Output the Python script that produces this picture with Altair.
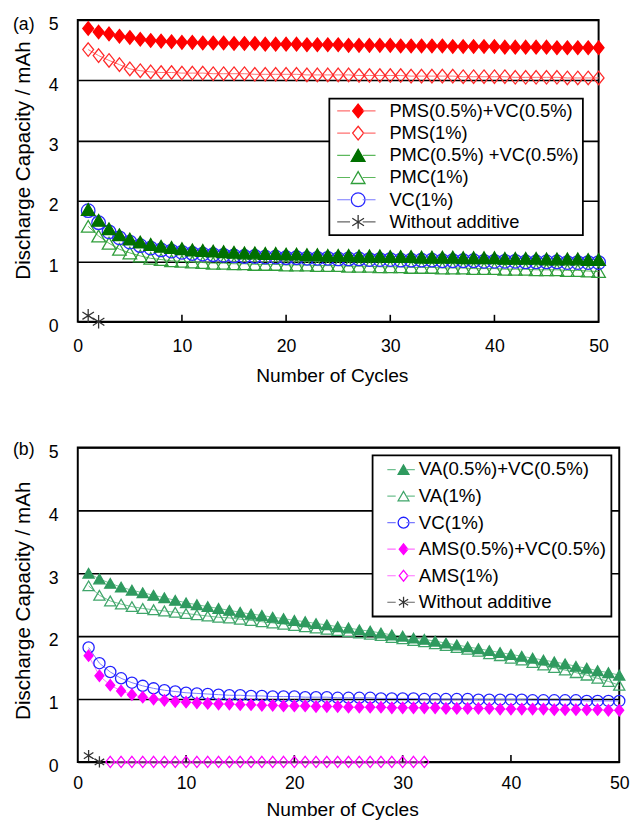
import altair as alt
import pandas as pd

FONT = "Liberation Sans"
ZW = "\u200b"

cycles = list(range(1, 51))
x_ticks = [0, 10, 20, 30, 40, 50]
inner_ticks = [10, 20, 30, 40]
y_ticks = [0, 1, 2, 3, 4, 5]

# ---------------- Panel (a) ----------------
a_labels = ["PMS(0.5%)+VC(0.5%)", "PMS(1%)", "PMC(0.5%) +VC(0.5%)", "PMC(1%)", "VC(1%)", "Without additive"]
a_pms_vc = [4.86, 4.80, 4.77, 4.73, 4.71, 4.68, 4.66, 4.65, 4.64, 4.63,
            4.63, 4.62, 4.62, 4.62, 4.61, 4.61, 4.61, 4.60, 4.60, 4.60,
            4.60, 4.59, 4.59, 4.59, 4.59, 4.58, 4.58, 4.58, 4.58, 4.58,
            4.57, 4.57, 4.57, 4.57, 4.57, 4.56, 4.56, 4.56, 4.56, 4.56,
            4.55, 4.55, 4.55, 4.55, 4.55, 4.54, 4.54, 4.54, 4.54, 4.54]
a_pms = [4.51, 4.41, 4.33, 4.26, 4.19, 4.16, 4.14, 4.13, 4.13, 4.12,
         4.12, 4.12, 4.11, 4.11, 4.11, 4.11, 4.10, 4.10, 4.10, 4.10,
         4.10, 4.09, 4.09, 4.09, 4.09, 4.09, 4.08, 4.08, 4.08, 4.08,
         4.08, 4.07, 4.07, 4.07, 4.07, 4.07, 4.06, 4.06, 4.06, 4.06,
         4.06, 4.05, 4.05, 4.05, 4.05, 4.05, 4.04, 4.04, 4.04, 4.04]
a_pmc_vc = [1.86, 1.68, 1.54, 1.44, 1.37, 1.32, 1.28, 1.25, 1.23, 1.21,
            1.19, 1.18, 1.17, 1.16, 1.15, 1.14, 1.14, 1.13, 1.13, 1.12,
            1.12, 1.11, 1.11, 1.10, 1.10, 1.10, 1.09, 1.09, 1.09, 1.08,
            1.08, 1.08, 1.07, 1.07, 1.07, 1.07, 1.06, 1.06, 1.06, 1.06,
            1.05, 1.05, 1.05, 1.05, 1.04, 1.04, 1.04, 1.04, 1.03, 1.03]
a_pmc = [1.58, 1.42, 1.30, 1.20, 1.14, 1.09, 1.05, 1.03, 1.01, 1.00,
         0.99, 0.98, 0.97, 0.97, 0.96, 0.96, 0.95, 0.95, 0.95, 0.94,
         0.94, 0.94, 0.93, 0.93, 0.93, 0.92, 0.92, 0.92, 0.91, 0.91,
         0.91, 0.90, 0.90, 0.90, 0.89, 0.89, 0.89, 0.88, 0.88, 0.88,
         0.87, 0.87, 0.87, 0.86, 0.86, 0.86, 0.85, 0.85, 0.84, 0.83]
a_vc = [1.84, 1.64, 1.49, 1.39, 1.32, 1.26, 1.22, 1.19, 1.17, 1.15,
        1.13, 1.12, 1.11, 1.10, 1.09, 1.08, 1.08, 1.07, 1.07, 1.06,
        1.06, 1.05, 1.05, 1.05, 1.04, 1.04, 1.04, 1.03, 1.03, 1.03,
        1.02, 1.02, 1.02, 1.02, 1.01, 1.01, 1.01, 1.01, 1.00, 1.00,
        1.00, 1.00, 0.99, 0.99, 0.99, 0.99, 0.98, 0.98, 0.98, 0.98]
a_without_x = [1, 2]
a_without = [0.10, 0.00]

# ---------------- Panel (b) ----------------
b_labels = ["VA(0.5%)+VC(0.5%)", "VA(1%)", "VC(1%)", "AMS(0.5%)+VC(0.5%)", "AMS(1%)", "Without additive"]
b_va_vc = [3.00, 2.91, 2.84, 2.78, 2.73, 2.69, 2.65, 2.61, 2.57, 2.53,
           2.50, 2.47, 2.44, 2.41, 2.38, 2.35, 2.33, 2.30, 2.28, 2.25,
           2.23, 2.20, 2.18, 2.15, 2.13, 2.10, 2.08, 2.05, 2.02, 2.00,
           1.97, 1.95, 1.92, 1.89, 1.86, 1.83, 1.80, 1.77, 1.74, 1.71,
           1.68, 1.65, 1.62, 1.59, 1.56, 1.52, 1.49, 1.45, 1.42, 1.38]
b_va = [2.80, 2.65, 2.56, 2.51, 2.47, 2.44, 2.42, 2.40, 2.38, 2.36,
        2.34, 2.32, 2.30, 2.29, 2.27, 2.25, 2.23, 2.21, 2.19, 2.17,
        2.15, 2.13, 2.11, 2.09, 2.07, 2.05, 2.03, 2.01, 1.98, 1.96,
        1.93, 1.91, 1.88, 1.85, 1.82, 1.79, 1.76, 1.72, 1.69, 1.65,
        1.62, 1.58, 1.54, 1.50, 1.46, 1.42, 1.38, 1.33, 1.28, 1.22]
b_vc = [1.82, 1.57, 1.43, 1.33, 1.26, 1.21, 1.17, 1.14, 1.12, 1.10,
        1.09, 1.08, 1.07, 1.06, 1.06, 1.05, 1.05, 1.04, 1.04, 1.04,
        1.03, 1.03, 1.03, 1.02, 1.02, 1.02, 1.02, 1.01, 1.01, 1.01,
        1.01, 1.00, 1.00, 1.00, 1.00, 1.00, 0.99, 0.99, 0.99, 0.99,
        0.99, 0.98, 0.98, 0.98, 0.98, 0.98, 0.97, 0.97, 0.97, 0.97]
b_ams_vc = [1.69, 1.37, 1.22, 1.13, 1.07, 1.03, 1.00, 0.98, 0.96, 0.95,
            0.94, 0.93, 0.92, 0.92, 0.91, 0.91, 0.90, 0.90, 0.89, 0.89,
            0.89, 0.88, 0.88, 0.88, 0.87, 0.87, 0.87, 0.87, 0.86, 0.86,
            0.86, 0.86, 0.86, 0.85, 0.85, 0.85, 0.85, 0.85, 0.84, 0.84,
            0.84, 0.84, 0.84, 0.83, 0.83, 0.83, 0.83, 0.83, 0.82, 0.82]
b_ams_x = list(range(3, 33))
b_ams = [0.0] * 30
b_without_x = [1, 2]
b_without = [0.10, 0.00]

DIAMOND = "M0,-1L0.8,0L0,1L-0.8,0Z"
AST = "M0,-1L0,1M-0.85,-0.55L0.85,0.55M-0.85,0.55L0.85,-0.55"

a_shapes = [DIAMOND, DIAMOND, "triangle-up", "triangle-up", "circle", AST]
a_strokes = ["#ff0000", "#ff2a2a", "#007000", "#2f9e3a", "#2a2aff", "#333333"]
a_fills = ["#ff0000", "transparent", "#007000", "transparent", "transparent", "transparent"]
a_lines = ["#ff7070", "#ff7070", "#5cb85c", "#5cb85c", "#7a7aff", "#666666"]

b_shapes = ["triangle-up", "triangle-up", "circle", DIAMOND, DIAMOND, AST]
b_strokes = ["#2f9a5f", "#3fa56a", "#2020ff", "#ff00ff", "#ff00ff", "#333333"]
b_fills = ["#2f9a5f", "transparent", "transparent", "#ff00ff", "transparent", "transparent"]
b_lines = ["#70c090", "#70c090", "#7a7aff", "#ff70ff", "#ff70ff", "#666666"]


def long_df(series, order):
    rows = []
    for idx in order:
        label, xs, ys = series[idx]
        for c, v in zip(xs, ys):
            rows.append({"cycle": c, "cap": v, "s": label, "sl": label + ZW})
    return pd.DataFrame(rows)


a_series = [
    (a_labels[0], cycles, a_pms_vc),
    (a_labels[1], cycles, a_pms),
    (a_labels[2], cycles, a_pmc_vc),
    (a_labels[3], cycles, a_pmc),
    (a_labels[4], cycles, a_vc),
    (a_labels[5], a_without_x, a_without),
]
b_series = [
    (b_labels[0], cycles, b_va_vc),
    (b_labels[1], cycles, b_va),
    (b_labels[2], cycles, b_vc),
    (b_labels[3], cycles, b_ams_vc),
    (b_labels[4], b_ams_x, b_ams),
    (b_labels[5], b_without_x, b_without),
]
df_a = long_df(a_series, [1, 0, 3, 4, 2, 5])
df_b = long_df(b_series, [4, 2, 3, 1, 0, 5])


def panel(df, labels, shapes, strokes, fills, lines, msize, w, h, letter, letter_y,
          xlp, xtp, xtx, yty, leg):
    x = alt.X("cycle:Q", scale=alt.Scale(domain=[0, 50], nice=False, zero=False),
              axis=alt.Axis(values=x_ticks, title="Number of Cycles", grid=False, ticks=False,
                            domain=False, labelPadding=xlp, titlePadding=xtp, labelFontSize=18,
                            titleFontSize=19.5, titleX=xtx, format="d", labelFlush=False))
    y = alt.Y("cap:Q", scale=alt.Scale(domain=[0, 5], nice=False),
              axis=alt.Axis(values=y_ticks, title="Discharge Capacity / mAh", grid=True,
                            ticks=False, domain=False, labelPadding=20, titlePadding=15,
                            labelFontSize=18, titleFontSize=21, titleY=yty, labelOffset=5,
                            format="d", gridColor="black", gridWidth=1.6, labelFlush=False))
    common = dict(title=None, orient="none", legendX=leg["lx"], legendY=leg["ly"],
                  padding=leg["p"], clipHeight=leg["ch"], rowPadding=leg["rp"],
                  labelFontSize=leg["fs"], labelFont=FONT, labelLimit=400)
    line_leg = alt.Legend(symbolType=leg["lpath"], symbolSize=leg["ll"] ** 2,
                          symbolStrokeWidth=1.2, symbolOffset=leg["lso"], labelOffset=0,
                          labelExpr="''", zindex=2, **common)
    pt_leg = alt.Legend(symbolSize=leg["ps"], symbolStrokeWidth=1.3, symbolOffset=leg["pso"],
                        labelOffset=leg["plo"], labelColor="black", fillColor="white",
                        strokeColor="black", labelExpr=leg["lexpr"], zindex=1, **common)

    base = alt.Chart(df)
    line_layer = base.mark_line(strokeWidth=1).encode(
        x=x, y=y,
        color=alt.Color("sl:N", scale=alt.Scale(domain=[l + ZW for l in labels], range=lines),
                        legend=line_leg),
    )
    pts = base.mark_point(size=msize, strokeWidth=1.3, opacity=1).encode(
        x=x, y=y,
        shape=alt.Shape("s:N", scale=alt.Scale(domain=labels, range=shapes), legend=pt_leg),
        stroke=alt.Stroke("s:N", scale=alt.Scale(domain=labels, range=strokes), legend=pt_leg),
        fill=alt.Fill("s:N", scale=alt.Scale(domain=labels, range=fills), legend=pt_leg),
    )
    ticks = alt.Chart(pd.DataFrame({"cycle": inner_ticks})).mark_rule(
        color="black", strokeWidth=1.6).encode(x=x, y=alt.value(h), y2=alt.value(h - 7))
    lab = alt.Chart(pd.DataFrame({"t": [letter]})).mark_text(
        font=FONT, fontSize=18, color="black", align="center", baseline="middle").encode(
        text="t:N", x=alt.value(-55), y=alt.value(letter_y))
    return alt.layer(line_layer, ticks, pts, lab).properties(width=w, height=h)


leg_a = dict(lx=256, ly=80, p=3.5, ch=18, rp=3.6, fs=18.6, ll=39, lso=3.5,
             lpath="M-1,0L-0.33,0M0.33,0L1,0", ps=196, pso=16.5, plo=22.5,
             lexpr="datum.label + ' '")
leg_b = dict(lx=300, ly=8, p=4.5, ch=20, rp=7, fs=19, ll=28, lso=9.5,
             lpath="M-1,0L-0.39,0M0.39,0L1,0", ps=121, pso=17.5, plo=6,
             lexpr="datum.label")

pa = panel(df_a, a_labels, a_shapes, a_strokes, a_fills, a_lines, 190, 530, 307, "(a)", 5,
           16, 12, 258.5, 142.5, leg_a)
pb = panel(df_b, b_labels, b_shapes, b_strokes, b_fills, b_lines, 130, 551, 320, "(b)", 2.5,
           13, 9, 269, 155.5, leg_b)

chart = alt.vconcat(pa, pb, spacing=54).resolve_scale(
    x="independent", y="independent", color="independent", shape="independent",
    stroke="independent", fill="independent").resolve_legend(
    color="independent", shape="independent", stroke="independent", fill="independent"
).configure_view(stroke="black", strokeWidth=2).configure_axis(
    labelFont=FONT, titleFont=FONT, labelColor="black", titleColor="black",
    titleFontWeight="normal").configure_legend(strokeWidth=1.8).properties(
    padding={"left": 3, "top": 0, "right": 2, "bottom": 0}, background="white")

chart.save("out.html", embed_options={"renderer": "svg", "actions": False})
